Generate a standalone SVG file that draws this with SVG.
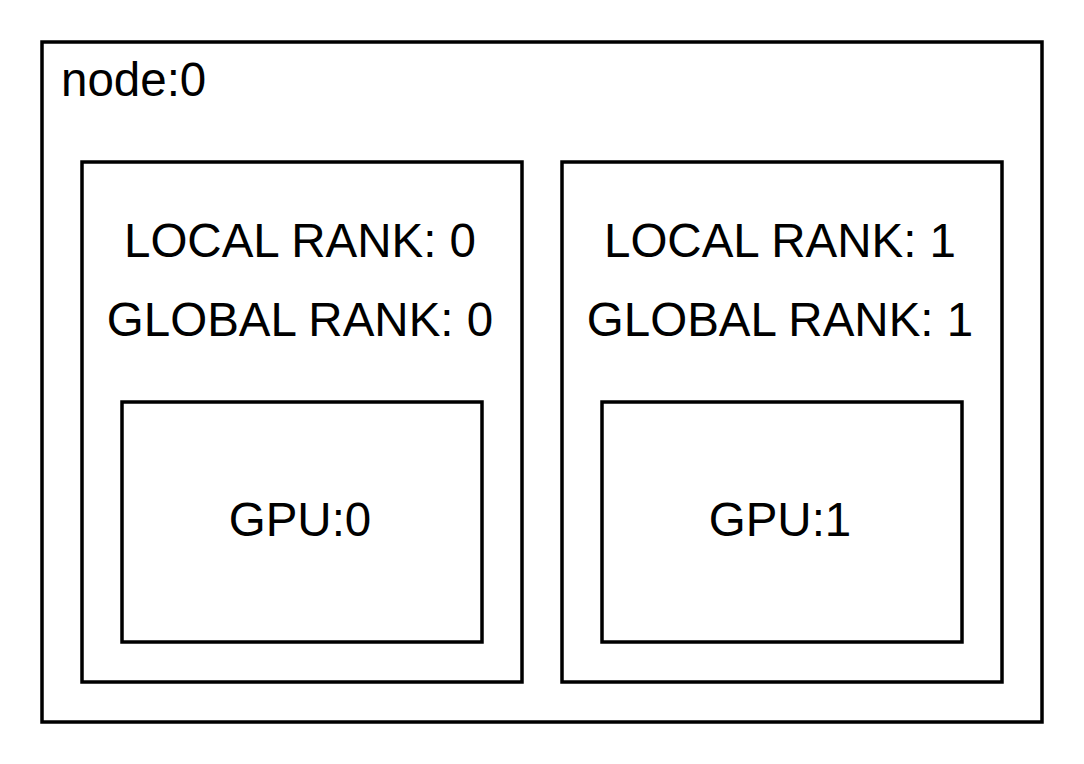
<svg xmlns="http://www.w3.org/2000/svg" width="1084" height="764" viewBox="0 0 1084 764">
<style>
rect.box{fill:#ffffff;stroke:#000000;stroke-width:3.5}
text{font-family:"Liberation Sans",Arial,Helvetica,sans-serif;font-size:47.5px;fill:#000000}
text.c{text-anchor:middle}
</style>
<rect width="1084" height="764" fill="#ffffff"/>
<g id="node0">
<rect class="box" x="42" y="42" width="1000" height="680"/>
<text x="61" y="96">node:0</text>
</g>
<g id="rank0">
<rect class="box" x="82" y="162" width="440" height="520"/>
<text class="c" x="300" y="257">LOCAL RANK: 0</text>
<text class="c" x="300" y="336">GLOBAL RANK: 0</text>
</g>
<g id="gpu0">
<rect class="box" x="122" y="402" width="360" height="240"/>
<text class="c" x="300" y="536">GPU:0</text>
</g>
<g id="rank1">
<rect class="box" x="562" y="162" width="440" height="520"/>
<text class="c" x="780" y="257">LOCAL RANK: 1</text>
<text class="c" x="780" y="336">GLOBAL RANK: 1</text>
</g>
<g id="gpu1">
<rect class="box" x="602" y="402" width="360" height="240"/>
<text class="c" x="780" y="536">GPU:1</text>
</g>
<g id="connectors"></g>
</svg>
